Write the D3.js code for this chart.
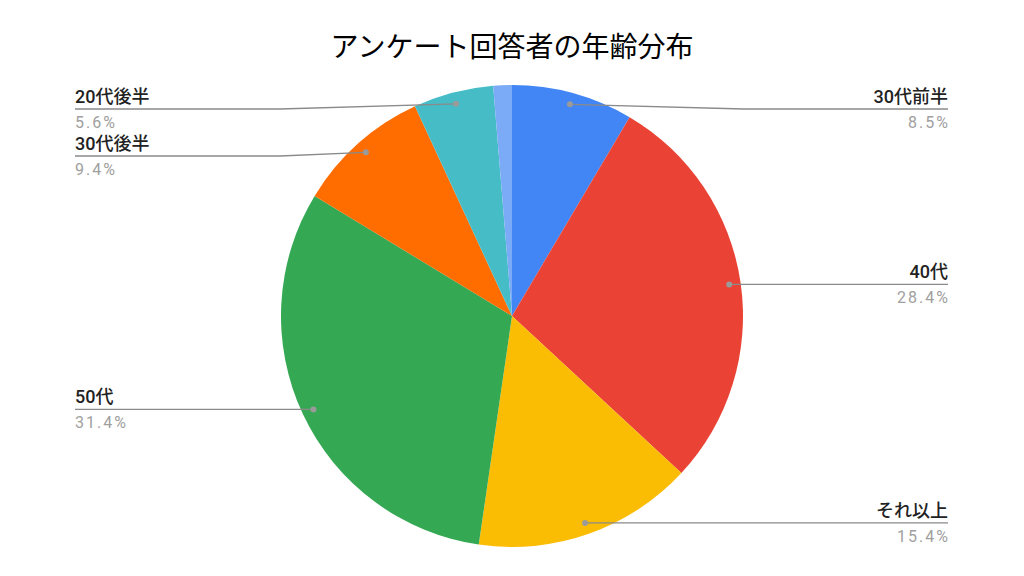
<!DOCTYPE html>
<html>
<head>
<meta charset="utf-8">
<script src="https://cdn.jsdelivr.net/npm/d3@7"></script>
<style>
  body { margin: 0; background: #fff; }
  svg { display: block; }
</style>
</head>
<body>
<svg id="chart" width="1024" height="576"></svg>
<script>
// data (clockwise from 12 o'clock)
const categories = ["30代前半", "40代", "それ以上", "50代", "30代後半", "20代後半", "20代前半"];
const shares = [8.5, 28.4, 15.4, 31.4, 9.4, 5.6, 1.3];
const colors = ["#4285f4", "#ea4335", "#fbbc04", "#34a853", "#ff6d01", "#46bdc6", "#7baaf7"];
const showLabel = [true, true, true, true, true, true, false];
const title = "アンケート回答者の年齢分布";

const width = 1024, height = 576;
const cx = 512, cy = 316, radius = 231;
const svg = d3.select("#chart");

svg.append("text")
  .attr("x", width / 2)
  .attr("y", 57)
  .attr("text-anchor", "middle")
  .attr("font-family", "'Noto Sans CJK JP', sans-serif")
  .attr("font-size", 28)
  .attr("fill", "#000")
  .text(title);

const data = categories.map((c, i) => ({ name: c, value: shares[i], color: colors[i], show: showLabel[i] }));

const pie = d3.pie().sort(null).value(d => d.value);
const arcs = pie(data);
const arc = d3.arc().innerRadius(0).outerRadius(radius);
const dotArc = d3.arc().innerRadius(radius * 0.95).outerRadius(radius * 0.95);

const g = svg.append("g").attr("transform", `translate(${cx},${cy})`);

g.selectAll("path.slice")
  .data(arcs)
  .join("path")
  .attr("class", "slice")
  .attr("d", arc)
  .attr("fill", d => d.data.color);

// label layout: dots at 95% of radius, labels stacked on each side
const labeled = arcs.filter(d => d.data.show).map(d => {
  const [x, y] = dotArc.centroid(d);
  const mid = (d.startAngle + d.endAngle) / 2;
  return { d: d, x: x + cx, y: y + cy, side: mid < Math.PI ? "right" : "left" };
});

const minGap = 47, topY = 109;
["left", "right"].forEach(side => {
  const items = labeled.filter(l => l.side === side).sort((a, b) => a.y - b.y);
  let prev = -Infinity;
  items.forEach(l => {
    l.ly = Math.max(l.y, prev + minGap, topY);
    prev = l.ly;
  });
});

const leftEdge = 75, rightEdge = 948;
const labels = svg.append("g");

labeled.forEach(l => {
  const right = l.side === "right";
  const edge = right ? rightEdge : leftEdge;
  const knee = right ? cx + radius + 1 : cx - radius - 1;
  const kneeX = right ? Math.max(knee, l.x) : Math.min(knee, l.x);

  labels.append("path")
    .attr("d", d3.line()([[edge, l.ly], [kneeX, l.ly], [l.x, l.y]]))
    .attr("fill", "none")
    .attr("stroke", "#8a8a8a")
    .attr("stroke-width", 1.3);

  labels.append("circle")
    .attr("cx", l.x)
    .attr("cy", l.y)
    .attr("r", 3)
    .attr("fill", "#9a9a9a");

  labels.append("text")
    .attr("x", edge)
    .attr("y", l.ly - 6)
    .attr("text-anchor", right ? "end" : "start")
    .attr("font-family", "Roboto, 'Noto Sans CJK JP', sans-serif")
    .attr("font-size", 18)
    .attr("font-weight", 500)
    .attr("fill", "#222")
    .text(l.d.data.name);

  labels.append("text")
    .attr("x", edge + (right ? 2 : 0))
    .attr("y", l.ly + 19)
    .attr("text-anchor", right ? "end" : "start")
    .attr("font-family", "Roboto, 'Noto Sans CJK JP', sans-serif")
    .attr("font-size", 16)
    .attr("letter-spacing", 2)
    .attr("fill", "#a0a0a0")
    .text(d3.format(".1f")(l.d.data.value) + "%");
});
</script>
</body>
</html>
